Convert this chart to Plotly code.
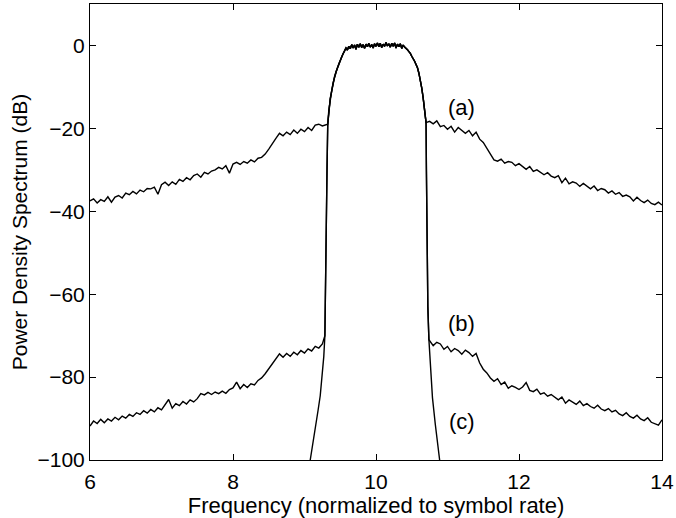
import plotly.graph_objects as go

# Frequency grids for the out-of-band regions (normalized to symbol rate)
left_freq = [6.00, 6.05, 6.10, 6.15, 6.20, 6.25, 6.30, 6.35, 6.40, 6.45, 6.50, 6.55, 6.60, 6.65, 6.70, 6.75, 6.80,
             6.85, 6.90, 6.95, 7.00, 7.05, 7.10, 7.15, 7.20, 7.25, 7.30, 7.35, 7.40, 7.45, 7.50, 7.55, 7.60, 7.65,
             7.70, 7.75, 7.80, 7.85, 7.90, 7.95, 8.00, 8.05, 8.10, 8.15, 8.20, 8.25, 8.30, 8.35, 8.40, 8.45, 8.50,
             8.55, 8.60, 8.65, 8.70, 8.75, 8.80, 8.85, 8.90, 8.95, 9.00, 9.05, 9.10, 9.15, 9.20, 9.25]
right_freq = [10.75, 10.80, 10.85, 10.90, 10.95, 11.00, 11.05, 11.10, 11.15, 11.20, 11.25, 11.30, 11.35, 11.40,
              11.45, 11.50, 11.55, 11.60, 11.65, 11.70, 11.75, 11.80, 11.85, 11.90, 11.95, 12.00, 12.05, 12.10,
              12.15, 12.20, 12.25, 12.30, 12.35, 12.40, 12.45, 12.50, 12.55, 12.60, 12.65, 12.70, 12.75, 12.80,
              12.85, 12.90, 12.95, 13.00, 13.05, 13.10, 13.15, 13.20, 13.25, 13.30, 13.35, 13.40, 13.45, 13.50,
              13.55, 13.60, 13.65, 13.70, 13.75, 13.80, 13.85, 13.90, 13.95, 14.00]

# Curve (a): left / right spectral regrowth (dB)
a_left = [-37.5, -37.0, -38.0, -37.2, -37.6, -36.5, -37.8, -36.6, -36.2, -36.8, -35.6, -36.0, -35.2, -35.8, -34.9,
          -35.3, -34.5, -34.6, -34.2, -35.9, -33.6, -33.0, -33.8, -32.9, -33.5, -32.3, -32.8, -31.9, -32.4, -31.4,
          -31.0, -31.8, -30.6, -31.0, -30.3, -30.0, -29.4, -29.8, -29.0, -30.8, -28.6, -28.2, -28.7, -28.0, -28.4,
          -27.6, -28.1, -27.2, -27.0, -26.2, -25.0, -23.6, -22.4, -21.2, -21.8, -20.9, -21.5, -20.4, -21.2, -20.2,
          -20.8, -19.8, -20.5, -19.2, -19.0, -19.4]
a_right = [-18.3, -18.9, -18.2, -19.6, -19.3, -20.2, -19.5, -20.9, -19.8, -20.4, -21.2, -20.5, -21.8, -20.9, -22.6,
           -23.4, -24.8, -26.2, -27.6, -27.9, -27.4, -28.4, -28.0, -28.2, -29.0, -28.5, -29.3, -29.9, -29.2, -30.4,
           -30.0, -30.6, -31.2, -30.7, -31.5, -31.9, -31.4, -33.1, -32.0, -33.4, -32.9, -33.2, -34.0, -33.3, -33.9,
           -34.6, -33.9, -35.0, -34.5, -34.8, -35.6, -35.1, -35.9, -35.5, -36.4, -36.1, -36.5, -37.5, -36.6, -37.4,
           -37.9, -37.3, -38.1, -38.4, -37.8, -38.5]

# Curve (b): left / right spectral regrowth (dB)
b_left = [-91.8, -90.6, -91.2, -90.2, -91.0, -90.1, -90.6, -89.7, -90.3, -89.4, -89.9, -89.0, -89.5, -88.6, -89.0,
          -88.1, -88.7, -87.8, -88.4, -87.4, -87.9, -86.6, -85.4, -87.5, -86.4, -86.9, -85.9, -86.5, -85.5, -86.0,
          -85.2, -84.0, -84.3, -83.7, -84.2, -83.6, -84.0, -83.4, -83.9, -83.0, -82.6, -81.2, -82.8, -81.8, -82.5,
          -81.6, -81.9, -80.8, -80.2, -79.2, -78.0, -76.6, -75.4, -74.4, -75.2, -74.3, -75.0, -74.0, -74.6, -73.6,
          -74.2, -73.2, -73.7, -72.6, -73.0, -72.0]
b_right = [-71.2, -72.4, -71.6, -72.0, -73.3, -72.6, -73.9, -73.1, -73.6, -74.5, -73.5, -74.1, -75.0, -74.3, -76.6,
           -78.1, -79.0, -80.2, -81.0, -80.4, -81.8, -81.2, -82.7, -82.1, -82.5, -83.0, -82.4, -81.3, -83.2, -83.5,
           -82.9, -84.1, -83.8, -84.6, -84.2, -84.9, -85.5, -84.8, -86.3, -85.5, -86.0, -86.6, -85.8, -86.9, -86.4,
           -87.1, -87.5, -86.8, -87.7, -88.1, -87.6, -88.4, -88.0, -88.9, -89.3, -88.6, -89.5, -89.9, -89.2, -90.1,
           -90.5, -89.8, -90.9, -91.2, -91.6, -90.3]

# Main lobe shared by all three curves
lobe_freq = [9.325, 9.34, 9.36, 9.38, 9.40, 9.42, 9.44, 9.46, 9.48, 9.50, 9.52, 9.54, 9.56, 9.58, 9.60, 9.62, 9.64,
             9.66, 9.68, 9.70, 9.72, 9.74, 9.76, 9.78, 9.80, 9.82, 9.84, 9.86, 9.88, 9.90, 9.92, 9.94, 9.96, 9.98,
             10.00, 10.02, 10.04, 10.06, 10.08, 10.10, 10.12, 10.14, 10.16, 10.18, 10.20, 10.22, 10.24, 10.26,
             10.28, 10.30, 10.32, 10.34, 10.36, 10.38, 10.40, 10.42, 10.44, 10.46, 10.48, 10.50, 10.52, 10.54,
             10.56, 10.58, 10.60, 10.62, 10.64, 10.66, 10.68, 10.70]
lobe_psd = [-19.0, -15.6, -12.8, -11.0, -9.0, -7.6, -6.4, -5.4, -4.4, -3.5, -2.8, -2.0, -1.4, -0.6, -1.1, -0.2, -0.8,
            0.2, -0.6, 0.1, -0.9, 0.3, -0.4, 0.4, -0.5, 0.2, -0.7, 0.3, -0.3, 0.5, -0.4, 0.2, -0.6, 0.4,
            -0.2, 0.6, -0.3, 0.5, -0.5, 0.3, -0.2, 0.7, -0.1, 0.4, -0.4, 0.5, -0.2, 0.6,
            -0.6, 0.3, -0.3, 0.4, -0.7, 0.1, -0.4, -0.6, -1.0, -1.5, -1.9, -2.6, -3.1, -3.8,
            -4.6, -5.4, -6.7, -8.3, -10.3, -12.7, -15.6, -18.6]

# Curve (c): filter skirts
c_left_freq = [9.08, 9.12, 9.16, 9.19, 9.22, 9.25, 9.27, 9.285, 9.295, 9.305, 9.315]
c_left_psd = [-100, -96, -91.5, -88, -84.5, -79, -75, -70, -60, -45, -30]
c_right_freq = [10.705, 10.71, 10.715, 10.725, 10.74, 10.76, 10.79, 10.83, 10.86, 10.89]
c_right_psd = [-30, -45, -55, -63, -71, -78, -85, -91.5, -96, -100]

labels = ["(a)", "(b)", "(c)"]
label_freq = [11.2, 11.2, 11.2]
label_psd = [-15.0, -67.0, -90.7]

x_ticks = [6, 8, 10, 12, 14]
y_ticks = [-100, -80, -60, -40, -20, 0]

# Assemble curves
a_x = left_freq + lobe_freq + right_freq
a_y = a_left + lobe_psd + a_right

bl_x = [f for f, p in zip(c_left_freq, c_left_psd) if p > b_left[-1]]
bl_y = [p for p in c_left_psd if p > b_left[-1]]
br_x = [f for f, p in zip(c_right_freq, c_right_psd) if p > b_right[0]]
br_y = [p for p in c_right_psd if p > b_right[0]]
b_x = left_freq + bl_x + lobe_freq + br_x + right_freq
b_y = b_left + bl_y + lobe_psd + br_y + b_right

c_x = c_left_freq + lobe_freq + c_right_freq
c_y = c_left_psd + lobe_psd + c_right_psd

FONT = "Liberation Sans, Arial, Helvetica, sans-serif"
line = dict(color="black", width=1.4)

fig = go.Figure()
for xs, ys in [(c_x, c_y), (b_x, b_y), (a_x, a_y)]:
    fig.add_trace(go.Scatter(x=xs, y=ys, mode="lines", line=line, showlegend=False, hoverinfo="skip"))

for t, fx, fy in zip(labels, label_freq, label_psd):
    fig.add_annotation(x=fx, y=fy, text=t, showarrow=False, font=dict(family=FONT, size=22, color="black"))

fig.update_layout(
    width=676, height=518,
    margin=dict(l=90, r=14, t=4, b=58),
    paper_bgcolor="white", plot_bgcolor="white",
    font=dict(family=FONT, size=22, color="black"),
)
fig.update_xaxes(
    range=[6, 14], tickvals=x_ticks, ticks="inside", ticklen=6, tickcolor="black", automargin=False,
    ticklabeloverflow="allow", ticklabelstandoff=3,
    showline=True, linecolor="black", linewidth=1, mirror="ticks", showgrid=False, zeroline=False,
    tickfont=dict(size=21), title=dict(text="Frequency (normalized to symbol rate)", standoff=2, font=dict(size=22)),
)
fig.update_yaxes(
    range=[-100, 10], tickvals=y_ticks, ticks="inside", ticklen=6, tickcolor="black", automargin=False,
    showline=True, linecolor="black", linewidth=1, mirror="ticks", showgrid=False, zeroline=False,
    tickfont=dict(size=21), title=dict(text="Power Density Spectrum (dB)", standoff=4, font=dict(size=21)),
)

fig.write_html("out.html", config={"displayModeBar": False},
               post_script="document.body.style.margin='0';")
